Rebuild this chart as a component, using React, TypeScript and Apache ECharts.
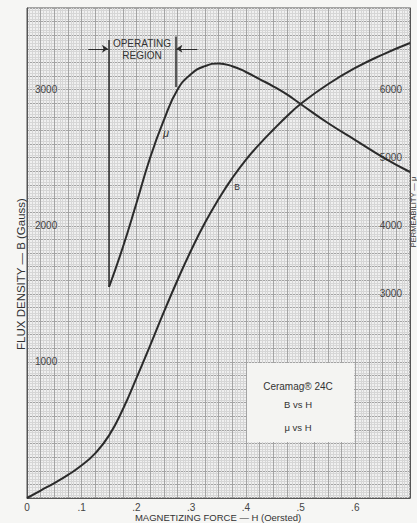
import React, { useEffect, useRef } from "react";
import * as echarts from "echarts";

// B vs H (left axis, Gauss)
const bH = [0, 0.025, 0.05, 0.075, 0.1, 0.125, 0.15, 0.175, 0.2, 0.225, 0.25, 0.275, 0.3, 0.325, 0.35, 0.375, 0.4, 0.425, 0.45, 0.475, 0.5, 0.55, 0.6, 0.65, 0.7];
const bValues = [0, 55, 110, 170, 240, 330, 460, 650, 880, 1120, 1365, 1600, 1820, 2020, 2195, 2350, 2485, 2600, 2705, 2805, 2895, 3040, 3160, 3258, 3343];

// mu vs H (right axis, permeability)
const muH = [0.15, 0.175, 0.2, 0.225, 0.25, 0.275, 0.3, 0.325, 0.35, 0.375, 0.4, 0.425, 0.45, 0.475, 0.5, 0.55, 0.6, 0.65, 0.7];
const muValues = [3100, 3680, 4330, 5000, 5550, 6000, 6230, 6345, 6385, 6345, 6260, 6155, 6050, 5930, 5790, 5510, 5260, 5010, 4790];

// tick labels
const xTickValues = [0, 0.1, 0.2, 0.3, 0.4, 0.5, 0.6];
const xTickLabels = ["0", ".1", ".2", ".3", ".4", ".5", ".6"];
const leftTickValues = [1000, 2000, 3000];
const rightTickValues = [3000, 4000, 5000, 6000];

// operating region (H bounds and mu extents)
const opRegionH = [0.15, 0.271];
const opLineTop = [6730, 6780];
const opLineBottom = [3100, 6040];
const opArrowMu = 6600;
const opArrowOuterH = [0.112, 0.311];

const FONT = "Liberation Sans";
const INK = "#2b2b2b";
const LABEL = "#444";

const txt = (x: number, y: number, text: string, font: string, extra: any = {}) => ({
  type: "text",
  x,
  y,
  z: 100,
  silent: true,
  ...extra,
  style: {
    text,
    fill: "#333",
    font,
    align: "center",
    verticalAlign: "middle",
    textAlign: "center",
    textVerticalAlign: "middle",
  },
});

export default function App() {
  const ref = useRef<HTMLDivElement>(null);
  useEffect(() => {
    if (!ref.current) return;
    const chart = echarts.init(ref.current, undefined, { renderer: "svg" });
    const bData = bH.map((h, i) => [h, bValues[i]]);
    const muData = muH.map((h, i) => [h, muValues[i]]);

    chart.setOption({
      animation: false,
      backgroundColor: "#f6f6f4",
      grid: {
        left: 27,
        top: 8,
        right: 7,
        bottom: 25,
        show: true,
        backgroundColor: "#f0f0f0",
        borderColor: "#555",
        borderWidth: 1,
      },
      xAxis: {
        type: "value",
        min: 0,
        max: 0.7,
        interval: 0.025,
        axisLine: { show: true, lineStyle: { color: "#555", width: 1 } },
        axisTick: { show: false },
        axisLabel: {
          margin: 4,
          color: LABEL,
          fontSize: 10,
          fontFamily: FONT,
          showMaxLabel: false,
          formatter: (v: number) => {
            const idx = xTickValues.findIndex((t) => Math.abs(t - v) < 1e-6);
            return idx >= 0 ? xTickLabels[idx] : "";
          },
        },
        splitLine: { show: true, lineStyle: { color: "#a4a4a4", width: 1 } },
        minorTick: { show: false, splitNumber: 5 },
        minorSplitLine: { show: true, lineStyle: { color: "#d6d6d6", width: 1 } },
      },
      yAxis: [
        {
          type: "value",
          min: 0,
          max: 3600,
          interval: 100,
          axisLine: { show: true, lineStyle: { color: "#555", width: 1 } },
          axisTick: { show: false },
          axisLabel: {
            inside: true,
            margin: 8,
            color: LABEL,
            fontSize: 10,
            fontFamily: FONT,
            formatter: (v: number) => (leftTickValues.includes(Math.round(v)) ? String(Math.round(v)) : ""),
          },
          splitLine: { show: true, lineStyle: { color: "#a4a4a4", width: 1 } },
          minorTick: { show: false, splitNumber: 5 },
          minorSplitLine: { show: true, lineStyle: { color: "#d6d6d6", width: 1 } },
        },
        {
          type: "value",
          min: 0,
          max: 7200,
          interval: 200,
          position: "right",
          axisLine: { show: true, lineStyle: { color: "#555", width: 1 } },
          axisTick: { show: false },
          axisLabel: {
            inside: true,
            margin: 8,
            color: LABEL,
            fontSize: 10,
            fontFamily: FONT,
            formatter: (v: number) => (rightTickValues.includes(Math.round(v)) ? String(Math.round(v)) : ""),
          },
          splitLine: { show: false },
        },
      ],
      series: [
        {
          name: "B",
          type: "line",
          yAxisIndex: 0,
          data: bData,
          smooth: 0.5,
          showSymbol: false,
          lineStyle: { color: INK, width: 2 },
        },
        {
          name: "mu",
          type: "line",
          yAxisIndex: 1,
          data: muData,
          smooth: 0.5,
          showSymbol: false,
          lineStyle: { color: INK, width: 2 },
          markLine: {
            silent: true,
            symbol: ["none", "none"],
            symbolSize: 6,
            label: { show: false },
            emphasis: { disabled: true },
            lineStyle: { color: INK, width: 1.5, type: "solid" },
            data: [
              [{ coord: [opRegionH[0], opLineBottom[0]] }, { coord: [opRegionH[0], opLineTop[0]] }],
              [{ coord: [opRegionH[1], opLineBottom[1]] }, { coord: [opRegionH[1], opLineTop[1]] }],
              [
                { coord: [opArrowOuterH[0], opArrowMu], lineStyle: { width: 1 } },
                { coord: [opRegionH[0] - 0.002, opArrowMu], symbol: "arrow" },
              ],
              [
                { coord: [opArrowOuterH[1], opArrowMu], lineStyle: { width: 1 } },
                { coord: [opRegionH[1] + 0.002, opArrowMu], symbol: "arrow" },
              ],
            ],
          },
        },
      ],
      graphic: [
        txt(142, 43, "OPERATING", `10px "${FONT}"`),
        txt(142, 55, "REGION", `10px "${FONT}"`),
        txt(166, 133, "μ", `italic 11px "${FONT}"`),
        txt(237, 187, "B", `8.5px "${FONT}"`),
        {
          type: "rect",
          z: 99,
          silent: true,
          shape: { x: 247, y: 363, width: 107, height: 79 },
          style: { fill: "#f4f4f2", stroke: "none" },
        },
        txt(298, 386, "Ceramag® 24C", `10px "${FONT}"`),
        txt(298, 404, "B vs H", `9.5px "${FONT}"`),
        txt(298, 427, "μ vs H", `9.5px "${FONT}"`),
        txt(21, 274, "FLUX DENSITY — B (Gauss)", `11.5px "${FONT}"`, { rotation: Math.PI / 2 }),
        txt(413, 212, "PERMEABILITY — μ", `7.5px "${FONT}"`, { rotation: Math.PI / 2 }),
        txt(218, 517, "MAGNETIZING FORCE — H (Oersted)", `9.5px "${FONT}"`),
      ],
    });
    return () => chart.dispose();
  }, []);
  return <div ref={ref} style={{ position: "fixed", left: 0, top: 0, width: 417, height: 523 }} />;
}
